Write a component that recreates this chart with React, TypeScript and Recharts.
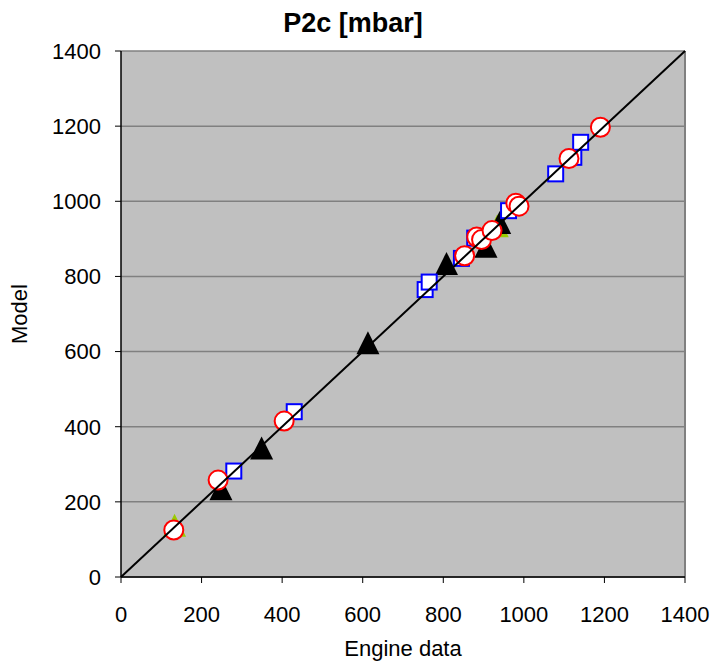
import React from "react";
import {
	CartesianGrid,
	ReferenceLine,
	Scatter,
	ScatterChart,
	XAxis,
	YAxis,
} from "recharts";

// values (engine data vs model, mbar)
const circles = [
	{ x: 131, y: 125 },
	{ x: 241, y: 258 },
	{ x: 405, y: 415 },
	{ x: 853, y: 855 },
	{ x: 883, y: 905 },
	{ x: 895, y: 898 },
	{ x: 921, y: 922 },
	{ x: 980, y: 995 },
	{ x: 988, y: 987 },
	{ x: 1112, y: 1114 },
	{ x: 1190, y: 1197 },
];

const squares = [
	{ x: 280, y: 282 },
	{ x: 430, y: 440 },
	{ x: 755, y: 765 },
	{ x: 765, y: 785 },
	{ x: 845, y: 848 },
	{ x: 878, y: 902 },
	{ x: 962, y: 975 },
	{ x: 1079, y: 1073 },
	{ x: 1124, y: 1117 },
	{ x: 1141, y: 1157 },
];

const blackTriangles = [
	{ x: 248, y: 228 },
	{ x: 349, y: 337 },
	{ x: 613, y: 617 },
	{ x: 808, y: 828 },
	{ x: 906, y: 874 },
	{ x: 940, y: 937 },
];

const greenTriangles = [
	{ x: 133, y: 131 },
	{ x: 934, y: 928 },
];

const diagonal = [
	{ x: 0, y: 0 },
	{ x: 1400, y: 1400 },
];

const ticks = [0, 200, 400, 600, 800, 1000, 1200, 1400];

const FONT = "'Liberation Sans', Arial, sans-serif";

const circleShape = (p: any) => (
	<circle cx={p.cx} cy={p.cy} r={9.5} fill="#fff" stroke="#ff0000" strokeWidth={2} />
);

const squareShape = (p: any) => (
	<rect x={p.cx - 7.5} y={p.cy - 7.5} width={15} height={15} fill="#fff" stroke="#0000ff" strokeWidth={2} />
);

const triangle = (color: string) => (p: any) => (
	<path
		d={`M${p.cx},${p.cy - 14} L${p.cx + 11.5},${p.cy + 9} L${p.cx - 11.5},${p.cy + 9} Z`}
		fill={color}
	/>
);

const noShape = () => <g />;

export default function App() {
	return (
		<div style={{ position: "relative", width: 713, height: 663, fontFamily: FONT }}>
			<style>{"body{margin:0}"}</style>
			<ScatterChart
				width={713}
				height={663}
				margin={{ top: 51, right: 28, left: 0, bottom: 0 }}
			>
				<CartesianGrid
					vertical={false}
					fill="#c0c0c0"
					fillOpacity={1}
					stroke="#808080"
					strokeWidth={1.5}
				/>
				<XAxis
					type="number"
					dataKey="x"
					domain={[0, 1400]}
					ticks={ticks}
					height={86}
					tickSize={6}
					tickMargin={23}
					axisLine={{ stroke: "#000", strokeWidth: 1.5 }}
					tickLine={{ stroke: "#000" }}
					tick={{ fill: "#000", fontSize: 22, fontFamily: FONT }}
				/>
				<YAxis
					type="number"
					dataKey="y"
					domain={[0, 1400]}
					ticks={ticks}
					width={121}
					tickSize={6}
					tickMargin={14}
					axisLine={{ stroke: "#000", strokeWidth: 1.5 }}
					tickLine={{ stroke: "#000" }}
					tick={{ fill: "#000", fontSize: 22, fontFamily: FONT }}
				/>
				<ReferenceLine x={1400} stroke="#808080" strokeWidth={2} />
				<Scatter data={greenTriangles} shape={triangle("#99cc00")} isAnimationActive={false} />
				<Scatter data={blackTriangles} shape={triangle("#000")} isAnimationActive={false} />
				<Scatter data={squares} shape={squareShape} isAnimationActive={false} />
				<Scatter data={circles} shape={circleShape} isAnimationActive={false} />
				<Scatter
					data={diagonal}
					line={{ stroke: "#000", strokeWidth: 2 }}
					lineType="joint"
					shape={noShape}
					isAnimationActive={false}
				/>
			</ScatterChart>
			<svg
				width={713}
				height={663}
				style={{ position: "absolute", left: 0, top: 0, pointerEvents: "none" }}
				fontFamily={FONT}
			>
				<text x={353} y={32} textAnchor="middle" fontSize={27} fontWeight="bold">
					P2c [mbar]
				</text>
				<text x={403} y={656} textAnchor="middle" fontSize={22}>
					Engine data
				</text>
				<text
					x={27}
					y={314}
					textAnchor="middle"
					fontSize={22}
					transform="rotate(-90 27 314)"
				>
					Model
				</text>
			</svg>
		</div>
	);
}
